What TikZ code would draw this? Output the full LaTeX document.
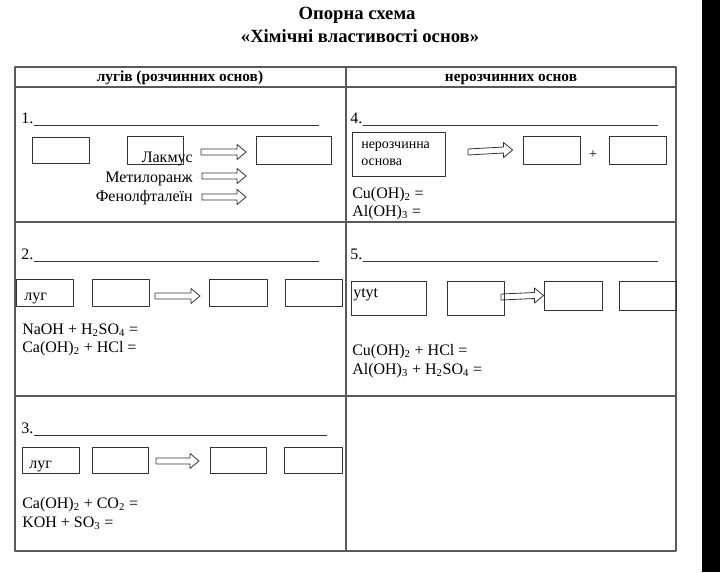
\documentclass[tikz,border=0pt]{standalone}
\usepackage{fontspec}
\setmainfont{Liberation Serif}
\usetikzlibrary{calc}

\tikzset{
  tbl/.style={line width=1.1pt, black!65},
  uline/.style={line width=0.6pt, black!80},
  cell/.style 2 args={draw=black!80, line width=0.7pt, minimum width=#1*0.75pt, minimum height=#2*0.75pt, inner sep=0pt},
  ttl/.style={inner sep=0pt, font=\bfseries\fontsize{14}{16}\selectfont},
  hd/.style={inner sep=0pt, font=\bfseries\fontsize{11.5}{13}\selectfont},
  txt/.style={inner sep=0pt, font=\fontsize{12}{14}\selectfont},
  small/.style={inner sep=0pt, font=\fontsize{10.5}{12}\selectfont},
  blockarr/.style={draw=black!80, line width=0.6pt, to path={
    ($(\tikztostart)+(0,-3)$) -- ($(\tikztotarget)+(-9,-3)$) -- ($(\tikztotarget)+(-9,-7.5)$)
    -- (\tikztotarget) -- ($(\tikztotarget)+(-9,7.5)$) -- ($(\tikztotarget)+(-9,3)$)
    -- ($(\tikztostart)+(0,3)$) -- cycle}}
}

\begin{document}
\begin{tikzpicture}[x=0.75pt, y=-0.75pt, line join=round]
\useasboundingbox (0,0) rectangle (720,572);
\fill[black] (702,0) rectangle (720,572);

% title
\node[ttl, anchor=base] (title1) at (357,19) {Опорна схема};
\node[ttl, anchor=base] (title2) at (360,42) {«Хімічні властивості основ»};

% table
\draw[tbl] (15,67) rectangle (676,551);
\draw[tbl] (15,87) -- (676,87);
\draw[tbl] (15,222) -- (676,222);
\draw[tbl] (15,396) -- (676,396);
\draw[tbl] (346,67) -- (346,551);
\node[hd, anchor=base] (hdl) at (180,81) {лугів (розчинних основ)};
\node[hd, anchor=base] (hdr) at (511,81) {нерозчинних основ};

% 1
\node[txt, anchor=base west] (n1) at (21,123) {1.};
\draw[uline] ([yshift=-1.5pt]n1.base east) -- (319,125);
\node[cell={57}{26}] (b1a) at (60.5,150) {};
\node[cell={56}{28}] (b1b) at (155,150) {};
\node[cell={75}{28}] (b1c) at (293.5,150) {};
\node[txt, anchor=base east] (lakmus) at (193,162) {Лакмус};
\node[txt, anchor=base east] (metil) at (193,182) {Метилоранж};
\node[txt, anchor=base east] (fenol) at (193,201) {Фенолфталеїн};
\coordinate (a1s) at (201,152);
\coordinate (a1e) at (246,152);
\coordinate (a2s) at (202,176);
\coordinate (a2e) at (246,176);
\coordinate (a3s) at (202,197);
\coordinate (a3e) at (246,197);
\draw[blockarr] (a1s) to (a1e);
\draw[blockarr] (a2s) to (a2e);
\draw[blockarr] (a3s) to (a3e);

% 4
\node[txt, anchor=base west] (n4) at (350,123) {4.};
\draw[uline] ([yshift=-1.5pt]n4.base east) -- (658,125);
\node[cell={93}{44}] (b4a) at (398.5,154) {};
\node[small, anchor=base west] (t4a) at (361,148) {нерозчинна};
\node[small, anchor=base west] (t4b) at (361,165) {основа};
\node[cell={57}{28}] (b4b) at (551.5,150) {};
\node[cell={57}{28}] (b4c) at (637.5,150) {};
\node[small] (plus) at (593,155) {+};
\coordinate (a4s) at (468,152);
\draw[blockarr] (a4s) to ([xshift=-7.5pt]b4b.west);
\node[txt, anchor=base west] (eq4a) at (352,198) {Cu(OH)\textsubscript{2} =};
\node[txt, anchor=base west] (eq4b) at (352,216) {Al(OH)\textsubscript{3} =};

% 2
\node[txt, anchor=base west] (n2) at (21,259) {2.};
\draw[uline] ([yshift=-1.5pt]n2.base east) -- (319,261);
\node[cell={57}{27}] (b2a) at (44.5,292.5) {};
\node[txt, anchor=base west] (t2a) at (24,300) {луг};
\node[cell={57}{27}] (b2b) at (120.5,292.5) {};
\node[cell={58}{27}] (b2c) at (238,292.5) {};
\node[cell={57}{27}] (b2d) at (313.5,292.5) {};
\coordinate (a5s) at (155,296);
\coordinate (a5e) at (200,296);
\draw[blockarr] (a5s) to (a5e);
\node[txt, anchor=base west] (eq2a) at (22,334) {NaOH + H\textsubscript{2}SO\textsubscript{4} =};
\node[txt, anchor=base west] (eq2b) at (22,352) {Ca(OH)\textsubscript{2} + HCl =};

% 5
\node[txt, anchor=base west] (n5) at (350,259) {5.};
\draw[uline] ([yshift=-1.5pt]n5.base east) -- (658,261);
\node[cell={75}{34}] (b5a) at (388.5,298) {};
\node[txt, anchor=base west] (t5a) at (353,297) {ytyt};
\node[cell={57}{34}] (b5b) at (475.5,298) {};
\node[cell={58}{29}] (b5c) at (573,295.5) {};
\node[cell={57}{29}] (b5d) at (647.5,295.5) {};
\coordinate (a6s) at (501,297);
\draw[blockarr] (a6s) to (b5c.west);
\node[txt, anchor=base west] (eq5a) at (352,355) {Cu(OH)\textsubscript{2} + HCl =};
\node[txt, anchor=base west] (eq5b) at (352,374) {Al(OH)\textsubscript{3} + H\textsubscript{2}SO\textsubscript{4} =};

% 3
\node[txt, anchor=base west] (n3) at (21,433) {3.};
\draw[uline] ([yshift=-1.5pt]n3.base east) -- (327,435);
\node[cell={57}{26}] (b3a) at (50.5,460) {};
\node[txt, anchor=base west] (t3a) at (29,468) {луг};
\node[cell={56}{26}] (b3b) at (120,460) {};
\node[cell={56}{26}] (b3c) at (238,460) {};
\node[cell={58}{26}] (b3d) at (313,460) {};
\coordinate (a7s) at (156,461);
\coordinate (a7e) at (199,461);
\draw[blockarr] (a7s) to (a7e);
\node[txt, anchor=base west] (eq3a) at (22,508) {Ca(OH)\textsubscript{2} + CO\textsubscript{2} =};
\node[txt, anchor=base west] (eq3b) at (22,527) {KOH + SO\textsubscript{3} =};
\end{tikzpicture}
\end{document}
